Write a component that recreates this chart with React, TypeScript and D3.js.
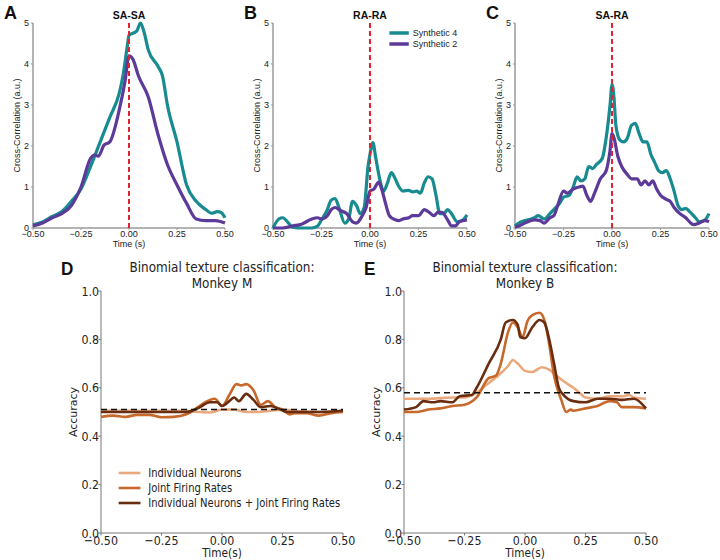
import React from "react";
import * as d3 from "d3";

type P = [number, number];

// ---------- Panel A (SA-SA) ----------
const aSynth4: P[] = [[-0.5,0.08],[-0.45,0.15],[-0.4,0.28],[-0.35,0.4],[-0.3,0.65],[-0.25,0.95],[-0.2,1.5],[-0.15,2.1],[-0.1,2.7],[-0.05,3.3],[-0.03,3.75],[-0.01,4.4],[0.0,4.7],[0.02,4.75],[0.04,4.8],[0.06,5.0],[0.08,4.75],[0.1,4.35],[0.15,3.95],[0.175,3.7],[0.2,3.0],[0.25,2.1],[0.3,1.05],[0.35,0.65],[0.4,0.45],[0.43,0.36],[0.46,0.4],[0.48,0.38],[0.5,0.25]];
const aSynth2: P[] = [[-0.5,0.05],[-0.45,0.12],[-0.4,0.25],[-0.35,0.35],[-0.3,0.55],[-0.25,1.0],[-0.2,1.7],[-0.18,1.78],[-0.16,1.75],[-0.13,2.02],[-0.1,2.1],[-0.05,2.9],[-0.02,3.6],[0.0,4.2],[0.02,4.12],[0.05,3.7],[0.1,3.2],[0.15,2.3],[0.2,1.55],[0.25,1.05],[0.3,0.6],[0.35,0.22],[0.4,0.18],[0.45,0.18],[0.5,0.12]];

// ---------- Panel B (RA-RA) ----------
const bSynth4: P[] = [[-0.5,0.0],[-0.47,0.22],[-0.45,0.25],[-0.42,0.12],[-0.4,0.02],[-0.35,0.0],[-0.3,0.0],[-0.27,0.05],[-0.25,0.2],[-0.22,0.45],[-0.2,0.68],[-0.18,0.72],[-0.16,0.5],[-0.13,0.12],[-0.11,0.22],[-0.09,0.65],[-0.07,0.55],[-0.05,0.35],[-0.03,0.5],[-0.01,1.5],[0.0,1.8],[0.015,2.08],[0.03,1.7],[0.05,1.2],[0.07,0.9],[0.09,1.1],[0.11,1.35],[0.13,1.2],[0.15,1.0],[0.17,0.9],[0.2,0.92],[0.22,0.88],[0.24,0.9],[0.26,0.85],[0.28,1.1],[0.3,1.25],[0.32,1.2],[0.34,0.8],[0.36,0.35],[0.38,0.35],[0.4,0.45],[0.42,0.35],[0.45,0.15],[0.48,0.2],[0.5,0.32]];
const bSynth2: P[] = [[-0.5,0.0],[-0.45,0.0],[-0.4,0.05],[-0.35,0.1],[-0.3,0.22],[-0.27,0.25],[-0.25,0.22],[-0.22,0.3],[-0.2,0.45],[-0.18,0.5],[-0.15,0.42],[-0.12,0.35],[-0.09,0.15],[-0.07,0.12],[-0.04,0.3],[-0.02,0.5],[0.0,0.9],[0.02,0.95],[0.045,1.12],[0.06,0.95],[0.08,0.6],[0.1,0.3],[0.13,0.2],[0.15,0.18],[0.17,0.22],[0.2,0.25],[0.22,0.3],[0.25,0.3],[0.28,0.45],[0.3,0.4],[0.33,0.3],[0.35,0.38],[0.37,0.38],[0.4,0.2],[0.42,0.05],[0.44,0.05],[0.46,0.15],[0.5,0.2]];

// ---------- Panel C (SA-RA) ----------
const cSynth4: P[] = [[-0.5,0.05],[-0.47,0.15],[-0.45,0.18],[-0.4,0.25],[-0.38,0.3],[-0.35,0.22],[-0.32,0.35],[-0.3,0.45],[-0.27,0.6],[-0.25,0.75],[-0.22,0.8],[-0.2,1.0],[-0.18,1.25],[-0.16,1.15],[-0.14,1.2],[-0.12,1.5],[-0.1,1.45],[-0.08,1.55],[-0.05,1.7],[-0.03,2.2],[-0.01,3.0],[0.0,3.5],[0.01,3.2],[0.02,2.5],[0.04,2.15],[0.06,2.1],[0.08,2.2],[0.1,2.5],[0.12,2.55],[0.14,2.3],[0.16,2.1],[0.18,2.1],[0.2,1.8],[0.22,1.6],[0.24,1.4],[0.26,1.35],[0.28,1.4],[0.3,1.2],[0.32,0.9],[0.34,0.55],[0.36,0.45],[0.38,0.48],[0.4,0.4],[0.43,0.25],[0.45,0.15],[0.48,0.2],[0.5,0.35]];
const cSynth2: P[] = [[-0.5,0.02],[-0.48,0.05],[-0.45,0.12],[-0.42,0.18],[-0.4,0.2],[-0.37,0.18],[-0.35,0.12],[-0.32,0.25],[-0.3,0.3],[-0.28,0.55],[-0.25,0.9],[-0.23,0.85],[-0.2,0.95],[-0.17,1.0],[-0.15,1.02],[-0.13,0.8],[-0.11,0.65],[-0.09,0.85],[-0.06,1.2],[-0.03,1.4],[-0.01,1.9],[0.0,2.3],[0.01,2.2],[0.03,1.75],[0.05,1.5],[0.08,1.3],[0.1,1.2],[0.13,1.2],[0.15,1.05],[0.17,1.15],[0.19,1.05],[0.21,1.15],[0.23,0.95],[0.25,0.8],[0.28,0.7],[0.3,0.65],[0.32,0.5],[0.35,0.35],[0.38,0.25],[0.4,0.15],[0.42,0.08],[0.45,0.12],[0.48,0.18],[0.5,0.15]];

// ---------- Panel D (Monkey M) ----------
const dIndividual: P[] = [[-0.5,0.505],[-0.4,0.505],[-0.3,0.505],[-0.2,0.505],[-0.15,0.505],[-0.1,0.5],[-0.05,0.498],[0.0,0.51],[0.05,0.51],[0.1,0.5],[0.15,0.5],[0.2,0.505],[0.25,0.51],[0.3,0.505],[0.4,0.5],[0.5,0.505]];
const dJoint: P[] = [[-0.5,0.48],[-0.45,0.485],[-0.4,0.48],[-0.35,0.488],[-0.3,0.488],[-0.25,0.478],[-0.2,0.48],[-0.15,0.49],[-0.12,0.505],[-0.1,0.52],[-0.05,0.55],[-0.03,0.555],[0.0,0.525],[0.03,0.57],[0.06,0.615],[0.08,0.61],[0.1,0.615],[0.13,0.59],[0.16,0.53],[0.19,0.545],[0.22,0.52],[0.25,0.51],[0.28,0.49],[0.3,0.495],[0.35,0.495],[0.4,0.485],[0.45,0.495],[0.5,0.5]];
const dCombined: P[] = [[-0.5,0.5],[-0.4,0.5],[-0.3,0.5],[-0.2,0.5],[-0.15,0.5],[-0.1,0.515],[-0.05,0.54],[-0.02,0.54],[0.0,0.525],[0.03,0.545],[0.05,0.56],[0.07,0.545],[0.1,0.575],[0.13,0.55],[0.16,0.52],[0.2,0.525],[0.23,0.515],[0.27,0.5],[0.3,0.5],[0.35,0.5],[0.4,0.5],[0.5,0.505]];
const dChance = 0.51;

// ---------- Panel E (Monkey B) ----------
const eIndividual: P[] = [[-0.5,0.555],[-0.4,0.555],[-0.3,0.56],[-0.25,0.56],[-0.2,0.58],[-0.15,0.62],[-0.1,0.66],[-0.07,0.69],[-0.05,0.715],[-0.03,0.7],[0.0,0.67],[0.03,0.665],[0.07,0.685],[0.1,0.675],[0.13,0.65],[0.17,0.62],[0.2,0.6],[0.23,0.575],[0.25,0.56],[0.3,0.555],[0.35,0.565],[0.4,0.565],[0.43,0.57],[0.45,0.56],[0.5,0.555]];
const eJoint: P[] = [[-0.5,0.5],[-0.45,0.5],[-0.4,0.51],[-0.35,0.515],[-0.3,0.525],[-0.25,0.53],[-0.2,0.56],[-0.15,0.64],[-0.12,0.65],[-0.1,0.7],[-0.07,0.83],[-0.05,0.87],[-0.03,0.85],[-0.01,0.81],[0.01,0.875],[0.03,0.9],[0.06,0.91],[0.08,0.88],[0.1,0.78],[0.12,0.65],[0.15,0.55],[0.17,0.5],[0.19,0.51],[0.2,0.505],[0.25,0.515],[0.3,0.525],[0.35,0.545],[0.38,0.54],[0.4,0.52],[0.45,0.52],[0.5,0.515]];
const eCombined: P[] = [[-0.5,0.51],[-0.45,0.52],[-0.42,0.545],[-0.38,0.54],[-0.35,0.545],[-0.3,0.54],[-0.27,0.565],[-0.22,0.57],[-0.2,0.6],[-0.15,0.7],[-0.1,0.8],[-0.08,0.87],[-0.05,0.88],[-0.03,0.86],[-0.02,0.81],[0.0,0.805],[0.03,0.85],[0.06,0.88],[0.08,0.87],[0.1,0.8],[0.12,0.7],[0.14,0.6],[0.16,0.57],[0.2,0.545],[0.25,0.54],[0.3,0.555],[0.35,0.555],[0.4,0.55],[0.45,0.555],[0.5,0.515]];
const eChance = 0.58;

const topXTicks = [-0.5, -0.25, 0, 0.25, 0.5];
const topYTicks = [0, 1, 2, 3, 4, 5];
const botXTicks = [-0.5, -0.25, 0, 0.25, 0.5];
const botYTicks = [0, 0.2, 0.4, 0.6, 0.8, 1.0];
const synthLabels = ["Synthetic 4", "Synthetic 2"];
const accLabels = ["Individual Neurons", "Joint Firing Rates", "Individual Neurons + Joint Firing Rates"];

const TEAL = "#178b8f";
const PURPLE = "#5b3a99";
const RED = "#e3222b";
const BROWNS = ["#eaa97c", "#c8692c", "#6a2d0f"];

const TOPFONT = "Liberation Sans, Arial, sans-serif";
const BOTFONT = "DejaVu Sans, sans-serif";

const fmtMinus = (s: string) => s.replace("-", "\u2212");

function T(props: { x: number; y: number; sx?: number; anchor?: string; size: number; weight?: string | number; family: string; rotate?: number; fill?: string; children: React.ReactNode }) {
  const { x, y, sx = 1, anchor = "middle", size, weight = "normal", family, rotate = 0, fill = "#222", children } = props;
  return (
    <g transform={`translate(${x},${y}) rotate(${rotate}) scale(${sx},1)`}>
      <text textAnchor={anchor as any} fontSize={size} fontWeight={weight} fontFamily={family} fill={fill}>{children}</text>
    </g>
  );
}

function TopPanel(props: { x0: number; x1: number; letter: string; title: string; s4: P[]; s2: P[]; legend?: boolean }) {
  const { x0, x1, letter, title, s4, s2, legend } = props;
  const x = d3.scaleLinear().domain([-0.5, 0.5]).range([x0, x1]);
  const y = d3.scaleLinear().domain([0, 5]).range([228, 23]);
  const line = d3.line<P>().x(d => x(d[0])).y(d => y(d[1])).curve(d3.curveMonotoneX);
  const axisCol = "#9a9a9a";
  return (
    <g>
      <T x={x0 - 29} y={19} size={18} weight="bold" family={TOPFONT} anchor="start" fill="#111">{letter}</T>
      <T x={x(0)} y={19} size={10.5} weight="bold" family={TOPFONT} fill="#111">{title}</T>
      <line x1={x0} x2={x0} y1={y(0)} y2={y(5)} stroke={axisCol} strokeWidth={1.5} />
      <line x1={x0} x2={x1} y1={y(0)} y2={y(0)} stroke={axisCol} strokeWidth={1.5} />
      {topYTicks.map(t => (
        <g key={"y" + t}>
          <line x1={x0 - 2} x2={x0} y1={y(t)} y2={y(t)} stroke={axisCol} strokeWidth={1} />
          <T x={x0 - 4} y={y(t) + 3} size={9} family={TOPFONT} anchor="end">{String(t)}</T>
        </g>
      ))}
      {topXTicks.map(t => (
        <g key={"x" + t}>
          <line x1={x(t)} x2={x(t)} y1={y(0)} y2={y(0) + 2} stroke={axisCol} strokeWidth={1} />
          <T x={x(t)} y={237} size={9} family={TOPFONT}>{fmtMinus(t.toFixed(2))}</T>
        </g>
      ))}
      <T x={x(0)} y={247} size={9} family={TOPFONT}>Time (s)</T>
      <T x={x0 - 13} y={(y(0) + y(5)) / 2} size={9} family={TOPFONT} rotate={-90}>Cross-Correlation (a.u.)</T>
      <path d={line(s4) || ""} fill="none" stroke={TEAL} strokeWidth={3.2} strokeLinejoin="round" />
      <path d={line(s2) || ""} fill="none" stroke={PURPLE} strokeWidth={3.2} strokeLinejoin="round" />
      <line x1={x(0)} x2={x(0)} y1={y(0)} y2={y(5)} stroke={RED} strokeWidth={2} strokeDasharray="5,3" />
      {legend && synthLabels.map((lab, i) => (
        <g key={lab}>
          <line x1={x(0.1)} x2={x(0.2)} y1={33 + i * 11} y2={33 + i * 11} stroke={i === 0 ? TEAL : PURPLE} strokeWidth={3.5} />
          <T x={x(0.22)} y={36 + i * 11} size={9} family={TOPFONT} anchor="start">{lab}</T>
        </g>
      ))}
    </g>
  );
}

function BottomPanel(props: { x0: number; x1: number; letter: string; subtitle: string; series: P[][]; chance: number; legend?: boolean }) {
  const { x0, x1, letter, subtitle, series, chance, legend } = props;
  const x = d3.scaleLinear().domain([-0.5, 0.5]).range([x0, x1]);
  const y = d3.scaleLinear().domain([0, 1]).range([533, 291]);
  const line = d3.line<P>().x(d => x(d[0])).y(d => y(d[1])).curve(d3.curveMonotoneX);
  const axisCol = "#777";
  const cx = (x0 + x1) / 2;
  return (
    <g>
      <T x={x0 - 40} y={275} size={19} weight="bold" family={TOPFONT} anchor="start" sx={0.9} fill="#111">{letter}</T>
      <T x={cx} y={272} size={13.5} family={BOTFONT} sx={0.89}>Binomial texture classification:</T>
      <T x={cx} y={288} size={13.5} family={BOTFONT} sx={0.89}>{subtitle}</T>
      <line x1={x0} x2={x0} y1={y(0)} y2={y(1)} stroke={axisCol} strokeWidth={1} />
      <line x1={x0} x2={x1} y1={y(0)} y2={y(0)} stroke={axisCol} strokeWidth={1} />
      {botYTicks.map(t => (
        <g key={"y" + t}>
          <line x1={x0 - 2.5} x2={x0} y1={y(t)} y2={y(t)} stroke={axisCol} strokeWidth={1} />
          <T x={x0 - 2} y={y(t) + 4.5} size={13} sx={0.85} family={BOTFONT} anchor="end">{t.toFixed(1)}</T>
        </g>
      ))}
      {botXTicks.map(t => (
        <g key={"x" + t}>
          <line x1={x(t)} x2={x(t)} y1={y(0)} y2={y(0) + 2.5} stroke={axisCol} strokeWidth={1} />
          <T x={x(t)} y={545} size={13} sx={0.85} family={BOTFONT}>{fmtMinus(t.toFixed(2))}</T>
        </g>
      ))}
      <T x={cx} y={557} size={12} sx={0.88} family={BOTFONT}>Time(s)</T>
      <T x={x0 - 24} y={(y(0) + y(1)) / 2} size={11} family={BOTFONT} rotate={-90}>Accuracy</T>
      {series.map((s, i) => (
        <path key={i} d={line(s) || ""} fill="none" stroke={BROWNS[i]} strokeWidth={2.6} strokeLinejoin="round" />
      ))}
      <line x1={x(-0.5)} x2={x(0.5)} y1={y(chance)} y2={y(chance)} stroke="#111" strokeWidth={1.5} strokeDasharray="6,4" />
      {legend && accLabels.map((lab, i) => (
        <g key={lab}>
          <line x1={x(-0.427)} x2={x(-0.337)} y1={473 + i * 15} y2={473 + i * 15} stroke={BROWNS[i]} strokeWidth={2.6} />
          <T x={x(-0.305)} y={477 + i * 15} size={11.5} sx={0.87} family={BOTFONT} anchor="start">{lab}</T>
        </g>
      ))}
    </g>
  );
}

export default function App() {
  return (
    <svg width={720} height={560} style={{ position: "absolute", left: 0, top: 0, background: "#fff" }}>
      <rect x={0} y={0} width={720} height={560} fill="#fff" />
      <TopPanel x0={33} x1={225} letter="A" title="SA-SA" s4={aSynth4} s2={aSynth2} />
      <TopPanel x0={273} x1={467} letter="B" title="RA-RA" s4={bSynth4} s2={bSynth2} legend />
      <TopPanel x0={515} x1={709} letter="C" title="SA-RA" s4={cSynth4} s2={cSynth2} />
      <BottomPanel x0={101} x1={343} letter="D" subtitle="Monkey M" series={[dIndividual, dJoint, dCombined]} chance={dChance} legend />
      <BottomPanel x0={404} x1={646} letter="E" subtitle="Monkey B" series={[eIndividual, eJoint, eCombined]} chance={eChance} />
    </svg>
  );
}
